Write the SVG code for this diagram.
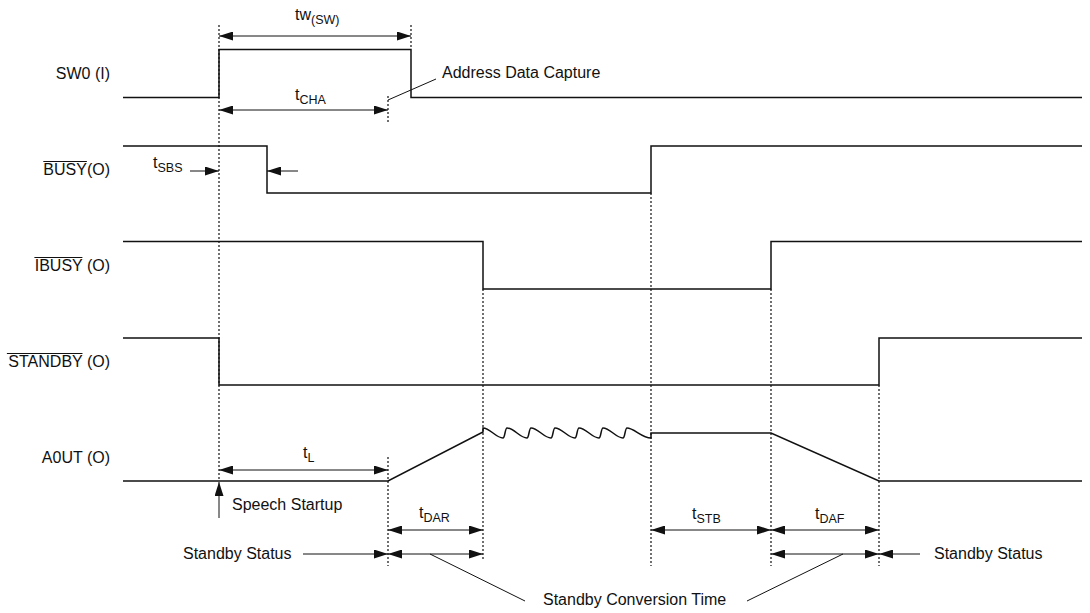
<svg xmlns="http://www.w3.org/2000/svg" width="1090" height="613" viewBox="0 0 1090 613">
<defs>
<marker id="ah" viewBox="0 0 14 9" refX="14" refY="4.5" markerWidth="14" markerHeight="9" markerUnits="userSpaceOnUse" orient="auto-start-reverse">
<path d="M0,0 L14,4.5 L0,9 z" fill="#111"/>
</marker>
<style>
text{font-family:"Liberation Sans",Arial,sans-serif;font-size:16px;fill:#111}
.sub{font-size:12.5px}
.lbl{text-anchor:end}
.wave{fill:none;stroke:#111;stroke-width:1.5}
.ov{stroke:#111;stroke-width:1}
.dash{stroke:#111;stroke-width:1.2;stroke-dasharray:2 2;fill:none}
.dim{stroke:#111;stroke-width:1;fill:none}
.a2{marker-start:url(#ah);marker-end:url(#ah)}
.a1{marker-end:url(#ah)}
</style>
</defs>
<rect width="1090" height="613" fill="#fff"/>

<g id="sw0">
<text class="lbl" x="110" y="79">SW0 (I)</text>
<path class="wave" d="M123,97.5 L219,97.5 L219,49.5 L411,49.5 L411,97.5 L1082,97.5"/>
</g>

<g id="busy">
<text class="lbl" x="110" y="175">BUSY(O)</text>
<line class="ov" x1="43.3" y1="161.5" x2="86.9" y2="161.5"/>
<path class="wave" d="M123,146 L267,146 L267,193 L651,193 L651,146 L1082,146"/>
</g>

<g id="ibusy">
<text class="lbl" x="110" y="271">IBUSY (O)</text>
<line class="ov" x1="34.4" y1="257.5" x2="82.4" y2="257.5"/>
<path class="wave" d="M123,241.5 L483,241.5 L483,289 L771,289 L771,241.5 L1082,241.5"/>
</g>

<g id="standby">
<text class="lbl" x="110" y="367">STANDBY (O)</text>
<line class="ov" x1="6.9" y1="353.5" x2="82.5" y2="353.5"/>
<path class="wave" d="M123,338 L219,338 L219,385 L879,385 L879,338 L1082,338"/>
</g>

<g id="aout">
<text class="lbl" x="110" y="463">A0UT (O)</text>
<path class="wave" d="M123,481 L388,481 L483,432 L483,428 C490,428 496,438 503,438 C505,438 505,428 507,428 C514,428 520,438 527,438 C529,438 529,428 531,428 C538,428 544,438 551,438 C553,438 553,428 555,428 C562,428 568,438 575,438 C577,438 577,428 579,428 C586,428 592,438 599,438 C601,438 601,428 603,428 C610,428 616,438 623,438 C625,438 625,428 627,428 C634,428 642,438 651,438 L651,433 L771,433 L879,481 L1082,481"/>
</g>

<g id="guides">
<line class="dash" x1="219" y1="25" x2="219" y2="481"/>
<line class="dash" x1="411" y1="25" x2="411" y2="49"/>
<line class="dash" x1="388" y1="96" x2="388" y2="122"/>
<line class="dash" x1="388" y1="457" x2="388" y2="566"/>
<line class="dash" x1="483" y1="289" x2="483" y2="561"/>
<line class="dash" x1="651" y1="193" x2="651" y2="566"/>
<line class="dash" x1="771" y1="289" x2="771" y2="566"/>
<line class="dash" x1="879" y1="385" x2="879" y2="566"/>
</g>

<g id="connectors">
<line class="dim a2" x1="219" y1="36" x2="411" y2="36"/>
<line class="dim a2" x1="219" y1="110" x2="388" y2="110"/>
<line class="dim" x1="388" y1="100" x2="436" y2="79"/>
<line class="dim a1" x1="190" y1="171" x2="219" y2="171"/>
<line class="dim a1" x1="298" y1="171" x2="267" y2="171"/>
<line class="dim a2" x1="219" y1="470" x2="388" y2="470"/>
<line class="dim a1" x1="219" y1="518" x2="219" y2="482"/>
<line class="dim a2" x1="388" y1="530" x2="483" y2="530"/>
<line class="dim a1" x1="303" y1="554" x2="388" y2="554"/>
<line class="dim a2" x1="388" y1="554" x2="483" y2="554"/>
<line class="dim" x1="430" y1="554" x2="525" y2="601"/>
<line class="dim a2" x1="651" y1="530" x2="771" y2="530"/>
<line class="dim a2" x1="771" y1="530" x2="879" y2="530"/>
<line class="dim a2" x1="771" y1="554" x2="879" y2="554"/>
<line class="dim" x1="843" y1="554" x2="747" y2="601"/>
<line class="dim a1" x1="920" y1="554" x2="879" y2="554"/>
</g>

<g id="labels">
<text x="295" y="20">tw<tspan class="sub" dy="4">(SW)</tspan></text>
<text x="295" y="100">t<tspan class="sub" dy="4">CHA</tspan></text>
<text x="442" y="78">Address Data Capture</text>
<text x="153" y="168">t<tspan class="sub" dy="4">SBS</tspan></text>
<text x="303" y="458">t<tspan class="sub" dy="4">L</tspan></text>
<text x="232" y="510">Speech Startup</text>
<text x="419" y="518">t<tspan class="sub" dy="4">DAR</tspan></text>
<text x="692" y="519">t<tspan class="sub" dy="4">STB</tspan></text>
<text x="815" y="519">t<tspan class="sub" dy="4">DAF</tspan></text>
<text x="183" y="559">Standby Status</text>
<text x="934" y="559">Standby Status</text>
<text x="543" y="605">Standby Conversion Time</text>
</g>
</svg>
